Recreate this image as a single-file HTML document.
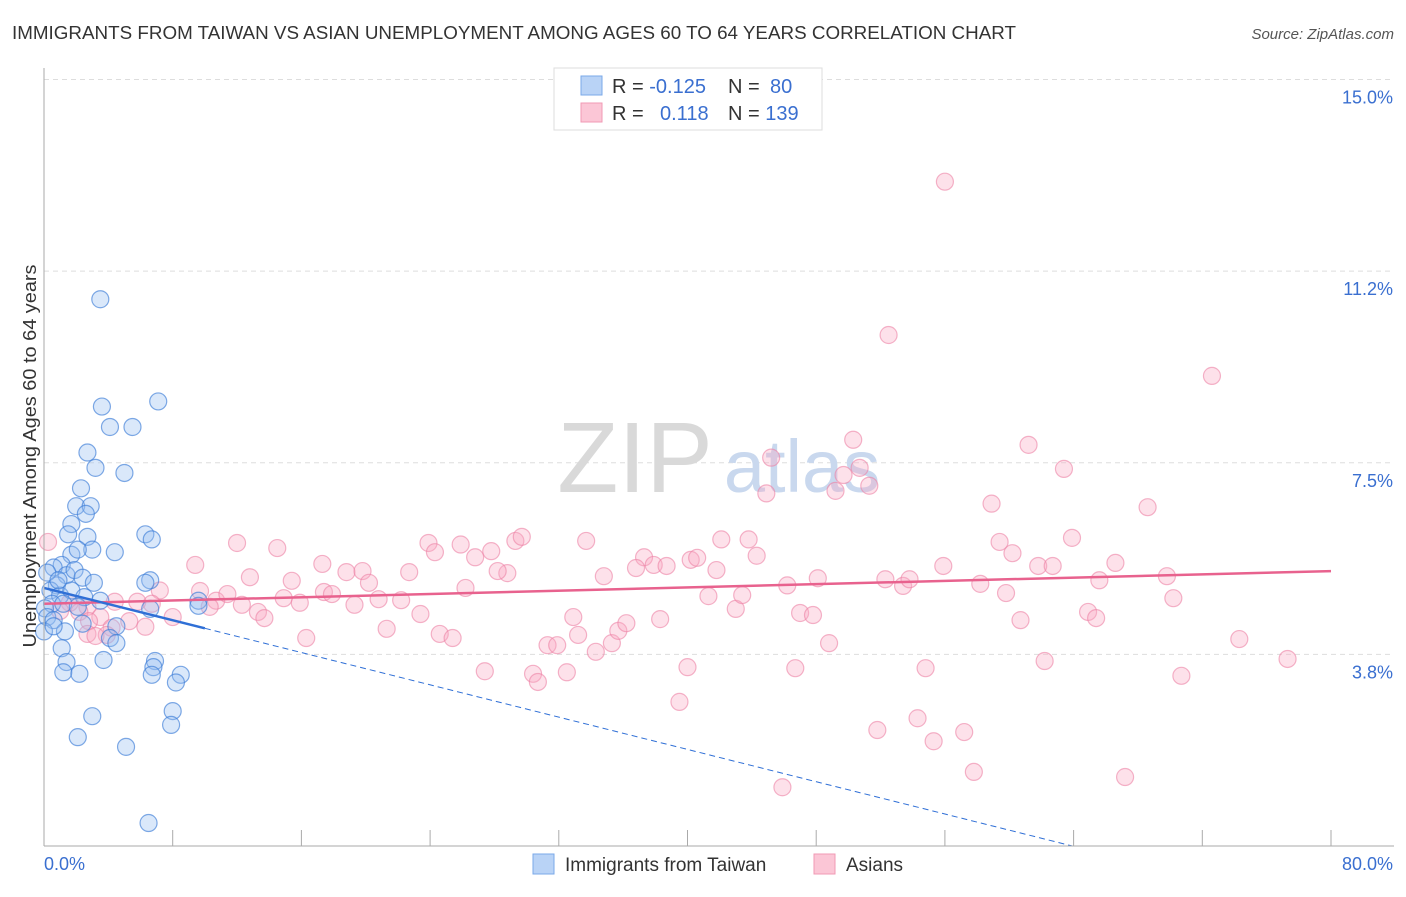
<!DOCTYPE html>
<html><head><meta charset="utf-8"><style>
body{margin:0;background:#fff;font-family:"Liberation Sans",sans-serif;}
svg text{font-family:"Liberation Sans",sans-serif;}
</style></head><body>
<svg id="chart" width="1406" height="892" xmlns="http://www.w3.org/2000/svg">
<text x="12" y="39" font-size="18" fill="#333" textLength="1004" lengthAdjust="spacingAndGlyphs">IMMIGRANTS FROM TAIWAN VS ASIAN UNEMPLOYMENT AMONG AGES 60 TO 64 YEARS CORRELATION CHART</text>
<text x="1394" y="39" font-size="15" fill="#555" font-style="italic" text-anchor="end">Source: ZipAtlas.com</text>
<g id="grid"></g>
<g><text x="635" y="492" font-size="100" fill="#d9d9d9" font-family="Liberation Serif" text-anchor="middle">ZIP</text><text x="802" y="492" font-size="74" fill="#c9d8ee" text-anchor="middle">atlas</text></g>
<g id="pts"></g>
<g id="trends"></g>
<g id="axes"></g>
<text x="36" y="456" font-size="18" fill="#333" text-anchor="middle" textLength="383" lengthAdjust="spacingAndGlyphs" transform="rotate(-90 36 456)">Unemployment Among Ages 60 to 64 years</text>
<g>
<rect x="554" y="68" width="268" height="62" fill="#fff" stroke="#ddd"/>
<rect x="581" y="76" width="21" height="19" fill="#b9d3f6" stroke="#7aa8e8"/>
<rect x="581" y="103" width="21" height="19" fill="#fbc6d6" stroke="#f09ab4"/>
<text x="612" y="93" font-size="20" fill="#333">R = <tspan fill="#3a6fd0">-0.125</tspan></text>
<text x="728" y="93" font-size="20" fill="#333">N = <tspan fill="#3a6fd0" x="770">80</tspan></text>
<text x="612" y="120" font-size="20" fill="#333">R = <tspan fill="#3a6fd0" x="660">0.118</tspan></text>
<text x="728" y="120" font-size="20" fill="#333">N = <tspan fill="#3a6fd0">139</tspan></text>
</g>
<g>
<rect x="533" y="854" width="21" height="20" fill="#b9d3f6" stroke="#7aa8e8"/>
<text x="565" y="871" font-size="19" fill="#333">Immigrants from Taiwan</text>
<rect x="814" y="854" width="21" height="20" fill="#fbc6d6" stroke="#f09ab4"/>
<text x="846" y="871" font-size="19" fill="#333">Asians</text>
</g>
</svg>
<script>
const yTicks=[3.75,7.5,11.25,15];
const yTickLabels=["3.8%","7.5%","11.2%","15.0%"];
const xTickLabels=["0.0%","80.0%"];
const blueX=[3.5,3.6,7.1,4.1,5.5,2.7,3.2,5.0,2.3,2.0,2.9,2.6,1.7,1.5,2.7,6.3,6.7,4.4,3.0,1.7,2.1,1.1,0.6,0.2,1.4,1.9,2.4,3.1,6.6,6.3,0.8,0.4,1.0,1.7,2.5,3.5,0.5,0.06,1.2,2.1,6.6,9.6,9.6,0.2,0.6,2.4,4.5,4.1,1.3,0,1.1,4.5,3.7,1.4,6.9,6.8,1.2,2.2,6.7,8.5,8.2,3.0,8.0,7.9,2.1,5.1,6.5,0.6,0.9];
const blueY=[10.7,8.6,8.7,8.2,8.2,7.7,7.4,7.3,7.0,6.65,6.65,6.5,6.3,6.1,6.05,6.1,6.0,5.75,5.8,5.7,5.8,5.5,5.45,5.35,5.3,5.4,5.25,5.15,5.2,5.15,5.1,5.0,4.9,5.0,4.87,4.8,4.74,4.65,4.74,4.68,4.64,4.8,4.7,4.48,4.42,4.35,4.3,4.07,4.2,4.2,3.87,3.97,3.64,3.6,3.62,3.5,3.4,3.37,3.35,3.35,3.2,2.54,2.64,2.37,2.13,1.94,0.45,4.3,5.2];
const pinkX=[0.25,56,52.5,72.6,50.3,45.2,61.2,63.4,50.7,49.7,51.3,49.2,44.9,58.9,68.6,12.0,14.5,9.4,23.9,24.3,25.9,26.8,27.8,29.3,29.7,33.7,37.3,36.8,37.9,38.7,40.2,40.6,42.1,43.8,44.3,41.8,34.8,28.8,28.2,17.3,18.8,19.8,20.2,22.7,26.2,12.8,15.4,17.4,17.9,19.3,20.8,22.2,23.4,14.9,15.9,13.3,12.3,13.7,10.7,10.3,9.7,11.4,7.2,8.0,5.8,6.7,4.4,2.7,1.6,1.0,2.2,3.5,2.8,4.2,5.3,6.3,3.9,2.7,3.2,21.3,24.6,25.4,16.3,32.9,33.2,31.3,31.9,34.3,35.3,35.7,36.2,38.3,43.0,41.3,43.4,46.2,48.1,52.3,53.4,53.8,55.9,58.2,59.4,60.2,59.8,61.8,62.7,63.9,65.6,66.6,69.8,70.2,64.9,65.4,60.7,47.0,47.8,48.8,74.3,77.3,70.7,62.2,54.8,46.7,40.0,32.5,30.4,30.7,27.4,39.5,51.8,54.3,55.3,57.2,57.8,45.9,67.2];
const pinkY=[5.95,13.0,10.0,9.2,7.95,7.6,7.85,7.38,7.4,7.26,7.05,6.95,6.9,6.7,6.63,5.93,5.83,5.5,5.93,5.75,5.9,5.65,5.77,5.97,6.05,5.97,5.65,5.44,5.5,5.48,5.6,5.64,6.0,6.0,5.68,5.4,5.28,5.34,5.38,5.52,5.36,5.38,5.15,5.36,5.05,5.26,5.19,4.97,4.93,4.72,4.83,4.81,4.54,4.85,4.76,4.58,4.72,4.46,4.8,4.68,4.99,4.93,5.0,4.48,4.78,4.74,4.78,4.68,4.76,4.6,4.58,4.48,4.4,4.27,4.4,4.29,4.13,4.15,4.11,4.25,4.15,4.07,4.07,4.48,4.13,3.93,3.93,3.8,3.97,4.21,4.36,4.44,4.64,4.89,4.91,5.1,5.24,5.22,5.09,5.22,5.48,5.13,5.95,5.73,4.95,5.48,5.48,6.03,5.2,5.54,5.28,4.85,4.58,4.46,4.42,4.56,4.52,3.97,4.05,3.66,3.33,3.62,3.48,3.48,3.5,3.4,3.37,3.21,3.42,2.82,2.27,2.5,2.05,2.23,1.45,1.15,1.35];
const blueTrend=[5.05,-0.079];
const pinkTrend=[4.74,0.008];

const NS="http://www.w3.org/2000/svg";
const X=v=>44+v*(1331-44)/80;
const Y=v=>846-v*51.1;
function mk(tag,attrs,parent){const e=document.createElementNS(NS,tag);for(const k in attrs)e.setAttribute(k,attrs[k]);parent.appendChild(e);return e;}
const grid=document.getElementById('grid'),axes=document.getElementById('axes'),pts=document.getElementById('pts'),tr=document.getElementById('trends');
yTicks.forEach((t,i)=>{
  const l=mk('line',{x1:44,x2:1394,y1:Y(t),y2:Y(t),stroke:'#ddd','stroke-dasharray':'5,4'},grid);
  
  
  const tx=mk('text',{x:1393,y:Y(t)+24,'font-size':18,fill:'#3a6fd0','text-anchor':'end'},axes);
  tx.textContent=yTickLabels[i];
  
  
});
mk('line',{x1:44,x2:44,y1:68,y2:846,stroke:'#aaa'},axes);
mk('line',{x1:44,x2:1394,y1:846,y2:846,stroke:'#aaa'},axes);
for(let i=0;i<=10;i++){mk('line',{x1:X(i*8),x2:X(i*8),y1:830,y2:846,stroke:'#aaa'},axes);}
[[0,44,'start'],[80,1393,'end']].forEach((d,i)=>{
  const tx=mk('text',{x:d[1],y:870,'font-size':18,fill:'#3a6fd0','text-anchor':d[2]},axes);
  tx.textContent=xTickLabels[i];
  
  
});
pinkX.forEach((x,i)=>{
  const c=mk('circle',{cx:X(x),cy:Y(pinkY[i]),r:8.5,fill:'rgba(248,170,195,0.35)',stroke:'rgba(236,130,165,0.6)','stroke-width':1.2},pts);
  
  
});
blueX.forEach((x,i)=>{
  const c=mk('circle',{cx:X(x),cy:Y(blueY[i]),r:8.5,fill:'rgba(150,190,240,0.35)',stroke:'rgba(60,125,215,0.65)','stroke-width':1.2},pts);
  
  
});
const pl=mk('line',{x1:X(0),y1:Y(pinkTrend[0]),x2:X(80),y2:Y(pinkTrend[0]+pinkTrend[1]*80),stroke:'#e8628e','stroke-width':2.5},tr);


const bl=mk('line',{x1:X(0),y1:Y(blueTrend[0]),x2:X(10),y2:Y(blueTrend[0]+blueTrend[1]*10),stroke:'#2f6fd6','stroke-width':2.5},tr);


const xe=-blueTrend[0]/blueTrend[1];
const bd=mk('line',{x1:X(10),y1:Y(blueTrend[0]+blueTrend[1]*10),x2:X(xe),y2:Y(0),stroke:'#2f6fd6','stroke-width':1,'stroke-dasharray':'6,4'},tr);


</script>
</body></html>
